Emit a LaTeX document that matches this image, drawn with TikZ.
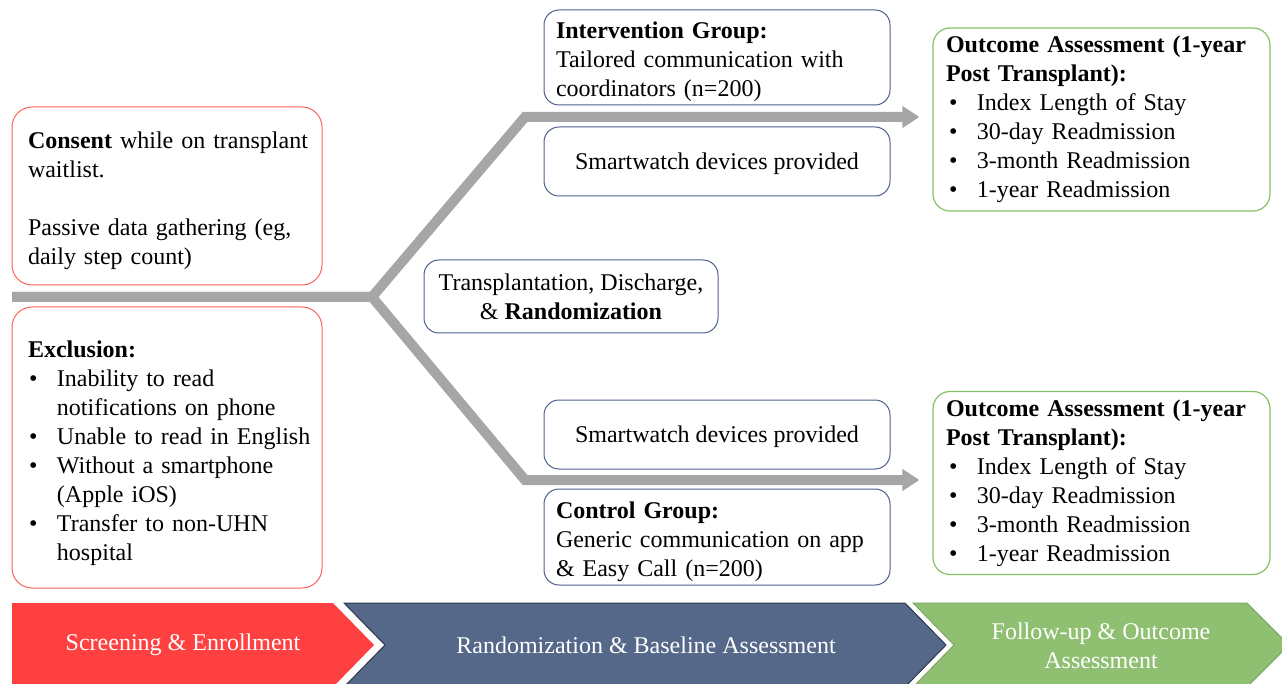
\documentclass[tikz,border=0pt]{standalone}
\usepackage{fontspec}
\setmainfont{Liberation Serif}
\usetikzlibrary{arrows.meta}
\definecolor{boxred}{RGB}{255,96,96}
\definecolor{boxblue}{RGB}{78,96,140}
\definecolor{boxgreen}{RGB}{132,192,102}
\definecolor{chevred}{RGB}{255,64,64}
\definecolor{chevblue}{RGB}{85,104,138}
\definecolor{chevgreen}{RGB}{143,191,112}
\definecolor{trunkgray}{RGB}{166,166,166}
\newcommand{\bul}{\par\noindent\hspace*{-29pt}\makebox[29pt][l]{\hspace{1pt}\textbullet}}

\begin{document}
\begin{tikzpicture}[x=1pt,y=-1pt,
  every node/.style={font=\fontsize{24}{29}\selectfont},
  redbox/.style={draw=boxred,line width=1pt,rounded corners=20pt,inner sep=0pt,minimum width=310pt,text width=298pt,align=left},
  bluebox/.style={draw=boxblue,line width=1pt,rounded corners=15pt,inner sep=0pt,minimum width=346pt},
  greenbox/.style={draw=boxgreen,line width=1.2pt,rounded corners=17pt,inner sep=0pt,minimum width=337pt,minimum height=183pt,text width=321pt,align=left},
  trunk/.style={draw=trunkgray,line width=10pt},
  branch/.style={trunk,-{Triangle[length=17pt,width=21pt]},shorten >=13pt},
  chevlabel/.style={text=white,align=center}]
\useasboundingbox (0,0) rectangle (1282,684);

% left boxes
\node [redbox,minimum height=178pt,text depth=111pt] (consent) at (167,196)
  {\leftskip=10pt \textbf{Consent} while on transplant\\waitlist.\\[29pt]Passive data gathering (eg,\\daily step count)\par};
\node [redbox,minimum height=281pt,text depth=197pt] (excl) at (167,447.5)
  {\leftskip=10pt \textbf{Exclusion:}\par\leftskip=39pt
   \bul Inability to read\\notifications on phone
   \bul Unable to read in English
   \bul Without a smartphone\\(Apple iOS)
   \bul Transfer to non-UHN\\hospital\par};

% middle boxes
\node [bluebox,minimum height=95pt,text width=322pt,align=left,text depth=54pt] (interv) at (717,57.5)
  {\textbf{Intervention Group:}\\Tailored communication with\\coordinators (n=200)};
\node [bluebox,minimum height=69pt,text depth=0pt] (watchA) at (717,161.5) {Smartwatch devices provided};
\node [bluebox,minimum width=294pt,minimum height=73pt,align=center] (trans) at (571,296.5)
  {Transplantation, Discharge,\\\& \textbf{Randomization}};
\node [bluebox,minimum height=69pt,text depth=0pt] (watchB) at (717,434.5) {Smartwatch devices provided};
\node [bluebox,minimum height=96pt,text width=322pt,align=left,text depth=53pt] (ctrl) at (717,537)
  {\textbf{Control Group:}\\Generic communication on app\\\& Easy Call (n=200)};

% outcome boxes
\node [greenbox] (outA) at (1101.5,119.5)
  {\leftskip=5pt \textbf{Outcome Assessment (1-year}\\\textbf{Post Transplant):}\par\leftskip=36pt
   \bul Index Length of Stay
   \bul 30-day Readmission
   \bul 3-month Readmission
   \bul 1-year Readmission\par};
\node [greenbox] (outB) at (1101.5,483)
  {\leftskip=5pt \textbf{Outcome Assessment (1-year}\\\textbf{Post Transplant):}\par\leftskip=36pt
   \bul Index Length of Stay
   \bul 30-day Readmission
   \bul 3-month Readmission
   \bul 1-year Readmission\par};

% gray paths
\coordinate (start) at (12,297);
\coordinate (split) at (372,297);
\coordinate (upA) at (525,117);
\coordinate (lowA) at (525,480);
\draw [branch] (start) -- (split) -- (upA) -- (upA -| outA.west);
\draw [branch] (start) -- (split) -- (lowA) -- (lowA -| outB.west);

% phase chevrons
\fill [chevred] (12,603) -- (333,603) -- (374,645) -- (333,687) -- (12,687) -- cycle;
\filldraw [fill=chevblue,draw=chevblue!55!black,line width=1pt] (344,603) -- (905,603) -- (946,645) -- (905,687) -- (344,687) -- (385,645) -- cycle;
\filldraw [fill=chevgreen,draw=chevgreen!85!black,line width=0.8pt] (913,603) -- (1247,603) -- (1289,645) -- (1247,687) -- (913,687) -- (954,645) -- cycle;
\node [chevlabel] (screen) at (183,645) {Screening \& Enrollment};
\node [chevlabel] (baseline) at (646,645) {Randomization \& Baseline Assessment};
\node [chevlabel] (follow) at (1101,646) {Follow-up \& Outcome\\Assessment};
\end{tikzpicture}
\end{document}
